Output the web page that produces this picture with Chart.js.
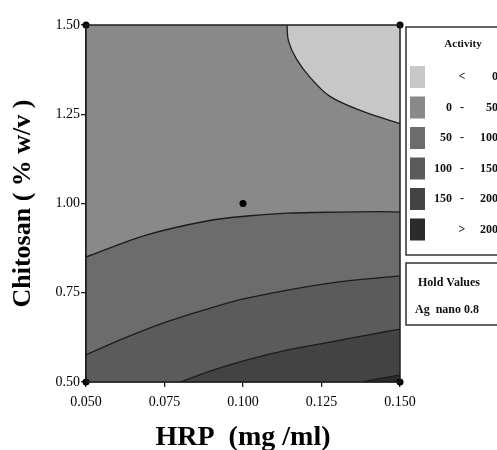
<!DOCTYPE html>
<html>
<head>
<meta charset="utf-8">
<script src="https://cdn.jsdelivr.net/npm/chart.js@4.4.0/dist/chart.umd.min.js"></script>
<style>
  html, body { margin: 0; padding: 0; background: #ffffff; }
  #wrap { width: 497px; height: 450px; }
</style>
</head>
<body>
<div id="wrap"><canvas id="contourChart" width="497" height="450"></canvas></div>
<script>
// Axis ticks
const xTicks = [0.050, 0.075, 0.100, 0.125, 0.150];
const yTicks = [0.50, 0.75, 1.00, 1.25, 1.50];

// Contour lines (HRP on x, Chitosan on y)
const level0X = [0.114, 0.1145, 0.117, 0.1213, 0.1277, 0.1382, 0.150];
const level0Y = [1.500, 1.455, 1.405, 1.354, 1.300, 1.258, 1.224];
const level50X = [0.050, 0.0694, 0.0885, 0.1013, 0.114, 0.130, 0.1436, 0.150];
const level50Y = [0.850, 0.912, 0.951, 0.965, 0.973, 0.976, 0.977, 0.976];
const level100X = [0.050, 0.062, 0.0745, 0.088, 0.1013, 0.1277, 0.150];
const level100Y = [0.576, 0.622, 0.665, 0.703, 0.735, 0.777, 0.797];
const level150X = [0.080, 0.090, 0.1013, 0.114, 0.1277, 0.140, 0.150];
const level150Y = [0.500, 0.532, 0.562, 0.589, 0.612, 0.632, 0.648];
const level200X = [0.138, 0.150];
const level200Y = [0.500, 0.520];

// Design points
const pointX = [0.050, 0.150, 0.050, 0.150, 0.100];
const pointY = [1.50, 1.50, 0.50, 0.50, 1.00];

// Activity bins (legend)
const binLow = ['', '0', '50', '100', '150', ''];
const binMid = ['<', '-', '-', '-', '-', '>'];
const binHigh = ['0', '50', '100', '150', '200', '200'];
const binColors = ['#c7c7c7', '#898989', '#6c6c6c', '#5b5b5b', '#434343', '#2b2b2b'];

const holdLabels = ['Hold Values', 'Ag  nano 0.8'];

const serif = "'Liberation Serif', 'Times New Roman', serif";

function toPoints(xs, ys) {
    return xs.map((x, i) => ({ x: x, y: ys[i] }));
}

function contour(xs, ys, fill, color, order) {
    return {
        data: toPoints(xs, ys),
        borderColor: '#1c1c1c',
        borderWidth: 1.3,
        backgroundColor: color,
        fill: fill,
        pointRadius: 0,
        tension: 0.35,
        order: order
    };
}

// Frame around plot area + custom legend boxes
const framePlugin = {
    id: 'frame',
    afterDatasetsDraw(chart) {
        const a = chart.chartArea;
        const ctx = chart.ctx;
        ctx.save();
        ctx.strokeStyle = '#1e1e1e';
        ctx.lineWidth = 1.5;
        ctx.strokeRect(a.left, a.top, a.right - a.left, a.bottom - a.top);
        ctx.restore();
    },
    afterDraw(chart) {
        const a = chart.chartArea;
        const ctx = chart.ctx;
        const left = a.right + 6;
        ctx.save();
        ctx.strokeStyle = '#333333';
        ctx.lineWidth = 1.5;
        ctx.strokeRect(left, 27, 110, 228);
        ctx.strokeRect(left, 263, 110, 62);

        ctx.fillStyle = '#111';
        ctx.font = 'bold 11px ' + serif;
        ctx.textAlign = 'center';
        ctx.textBaseline = 'middle';
        ctx.fillText('Activity', left + 57, 44);

        ctx.font = 'bold 12px ' + serif;
        binColors.forEach((c, i) => {
            const cy = 77 + i * 30.5;
            ctx.fillStyle = c;
            ctx.fillRect(left + 4, cy - 11, 15, 22);
            ctx.fillStyle = '#111';
            ctx.textAlign = 'right';
            ctx.fillText(binLow[i], left + 46, cy);
            ctx.textAlign = 'center';
            ctx.fillText(binMid[i], left + 56, cy);
            ctx.textAlign = 'right';
            ctx.fillText(binHigh[i], left + 92, cy);
        });

        ctx.textAlign = 'left';
        ctx.fillText(holdLabels[0], left + 12, 283);
        ctx.fillText(holdLabels[1], left + 9, 310);
        ctx.restore();
    }
};

function drawChart() {
    const ctx = document.getElementById('contourChart').getContext('2d');
    new Chart(ctx, {
        type: 'line',
        data: {
            datasets: [
                {
                    data: toPoints(pointX, pointY),
                    showLine: false,
                    pointRadius: 3.5,
                    pointBackgroundColor: '#000000',
                    pointBorderWidth: 0,
                    clip: false,
                    order: 0
                },
                contour(level0X, level0Y, 'end', binColors[0], 5),
                contour(level200X, level200Y, 'start', binColors[5], 6),
                contour(level150X, level150Y, 'start', binColors[4], 7),
                contour(level100X, level100Y, 'start', binColors[3], 8),
                contour(level50X, level50Y, 'start', binColors[2], 9),
                // base band 0 - 50 over the whole design space
                {
                    data: toPoints([xTicks[0], xTicks[xTicks.length - 1]], [yTicks[yTicks.length - 1], yTicks[yTicks.length - 1]]),
                    borderWidth: 0,
                    backgroundColor: binColors[1],
                    fill: 'start',
                    pointRadius: 0,
                    order: 10
                }
            ]
        },
        options: {
            responsive: false,
            animation: false,
            layout: { padding: { top: 25, right: 97, left: 0, bottom: 0 } },
            plugins: {
                legend: { display: false },
                tooltip: { enabled: false }
            },
            scales: {
                x: {
                    type: 'linear',
                    min: xTicks[0],
                    max: xTicks[xTicks.length - 1],
                    afterBuildTicks: s => { s.ticks = xTicks.map(v => ({ value: v })); },
                    afterFit: s => { s.height = 68; },
                    grid: { drawOnChartArea: false, tickLength: 5, color: '#222', lineWidth: 1.3 },
                    border: { display: true, color: '#222', width: 1.5 },
                    ticks: {
                        padding: 7,
                        color: '#000',
                        font: { family: serif, size: 14 },
                        callback: v => Number(v).toFixed(3)
                    },
                    title: {
                        display: true,
                        text: 'HRP  (mg /ml)',
                        color: '#000',
                        font: { family: serif, size: 28, weight: 'bold' },
                        padding: { top: 0, bottom: -5 }
                    }
                },
                y: {
                    type: 'linear',
                    min: yTicks[0],
                    max: yTicks[yTicks.length - 1],
                    afterBuildTicks: s => { s.ticks = yTicks.map(v => ({ value: v })); },
                    afterFit: s => { s.width = 86; },
                    grid: { drawOnChartArea: false, tickLength: 5, color: '#222', lineWidth: 1.3 },
                    border: { display: true, color: '#222', width: 1.5 },
                    ticks: {
                        padding: 1,
                        color: '#000',
                        font: { family: serif, size: 14 },
                        callback: v => Number(v).toFixed(2)
                    },
                    title: {
                        display: true,
                        text: 'Chitosan ( % w/v )',
                        color: '#000',
                        font: { family: serif, size: 26, weight: 'bold' },
                        padding: { top: 8, bottom: 0 }
                    }
                }
            }
        },
        plugins: [framePlugin]
    });
}

document.addEventListener('DOMContentLoaded', () => {
    drawChart();
});
</script>
</body>
</html>
